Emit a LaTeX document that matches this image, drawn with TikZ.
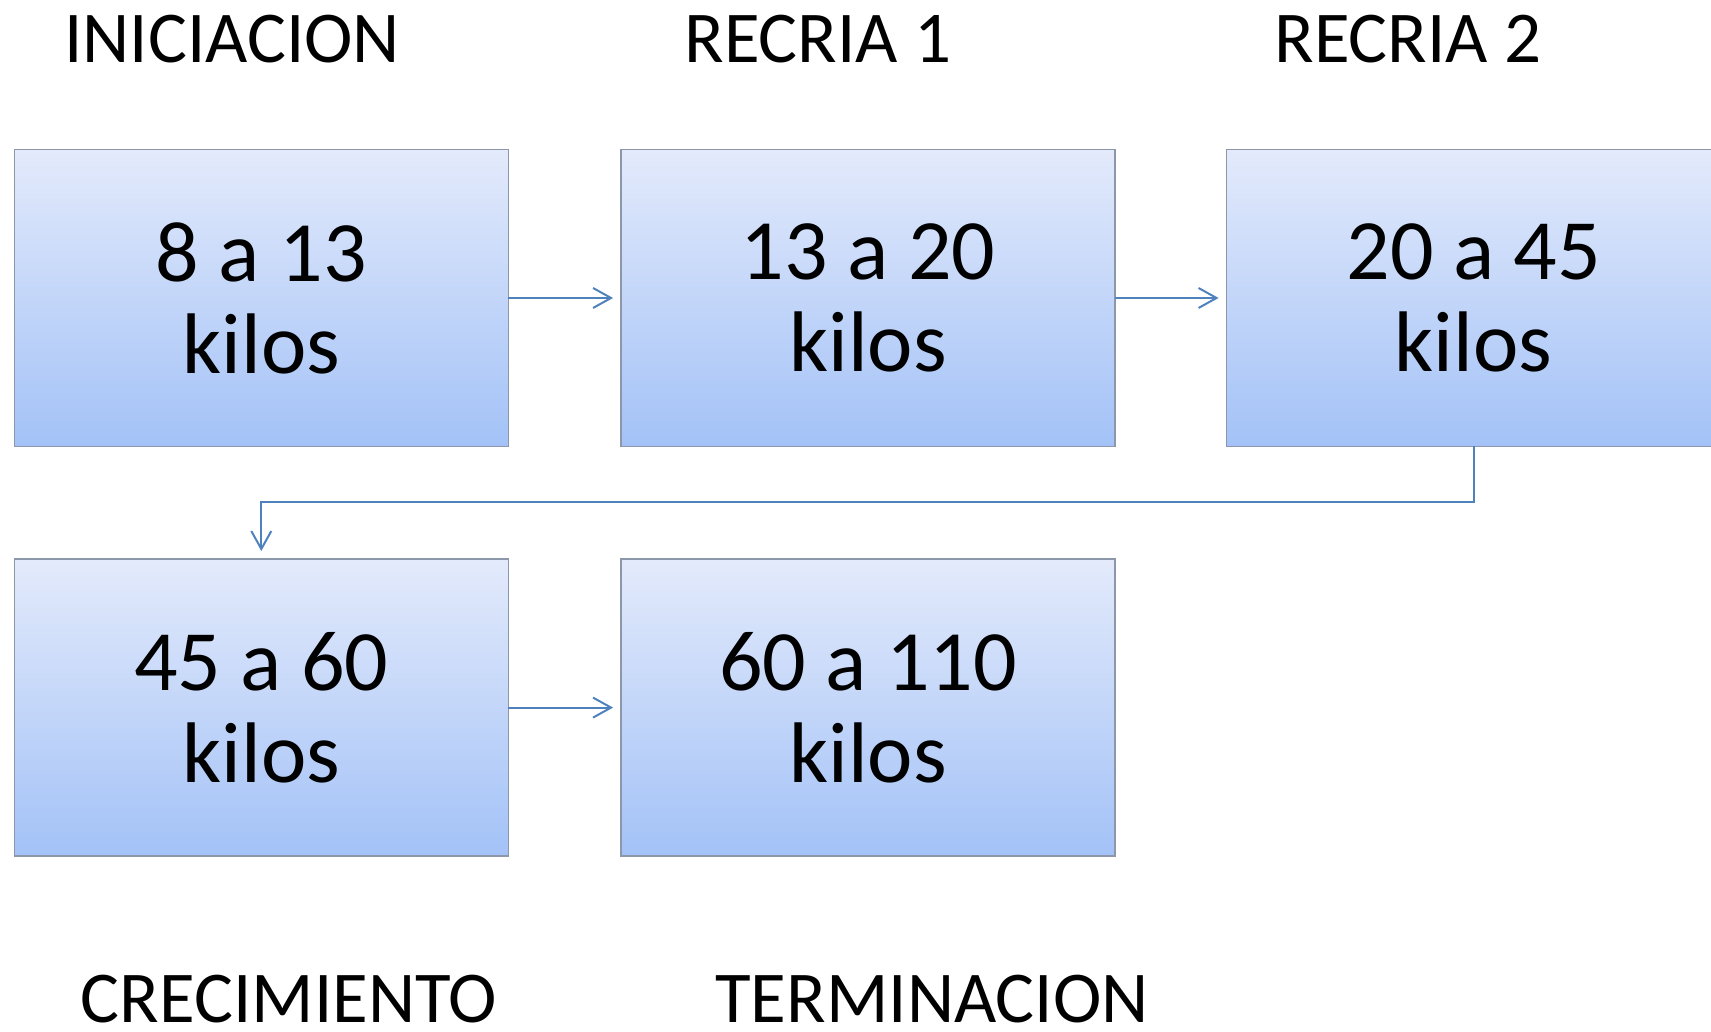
\documentclass[tikz,border=0pt]{standalone}
\usepackage{tikz}
\usepackage{xcolor}
\usepackage{fontspec}
\setmainfont{Carlito}
\usetikzlibrary{arrows.meta}
\definecolor{boxtop}{HTML}{E3EAFB}
\definecolor{boxmid}{HTML}{C8D9FA}
\definecolor{boxbot}{HTML}{A3C2F7}
\definecolor{boxedge}{HTML}{8C97A9}
\definecolor{flowblue}{HTML}{4F81BD}
\newcommand\kilofont{\fontsize{86}{92}\selectfont}
\newcommand\stagefont{\fontsize{73}{80}\selectfont}
\tikzset{%
  tipA/.tip={Straight Barb[length=18pt,width=20pt]},
  stagebox/.style={draw=boxedge, line width=1.5pt, top color=boxtop, middle color=boxmid, bottom color=boxbot, minimum width=494pt, minimum height=297pt, inner sep=0pt, outer sep=0pt, align=center, font=\kilofont},
  stagename/.style={anchor=base, inner sep=0pt, font=\stagefont},
  flow/.style={draw=flowblue, line width=2pt, -tipA, shorten >=8pt}
}

\begin{document}
\begin{tikzpicture}[x=1pt,y=1pt]
\useasboundingbox (0,0) rectangle (1711,1032);
\clip (0,0) rectangle (1711,1032);
\node[stagebox] (b1) at (261.3,734) {8 a 13\\kilos};
\node[stagebox] (b2) at (868.1,734) {13 a 20\\kilos};
\node[stagebox] (b3) at (1473.6,734) {20 a 45\\kilos};
\node[stagebox] (b4) at (261.3,324.4) {45 a 60\\kilos};
\node[stagebox] (b5) at (868.1,324.4) {60 a 110\\kilos};
\node[stagename] (n1) at (232,969) {INICIACION};
\node[stagename] (n2) at (818,969) {RECRIA 1};
\node[stagename] (n3) at (1408,969) {RECRIA 2};
\node[stagename] (n4) at (289,9) {CRECIMIENTO};
\node[stagename] (n5) at (932,9) {TERMINACION};
\draw[flow] (b1) -- (b2);
\draw[flow] (b2) -- (b3);
\draw[flow] (b3.south) -- ++(0,-56) -| (b4.north);
\draw[flow] (b4) -- (b5);
\end{tikzpicture}
\end{document}
